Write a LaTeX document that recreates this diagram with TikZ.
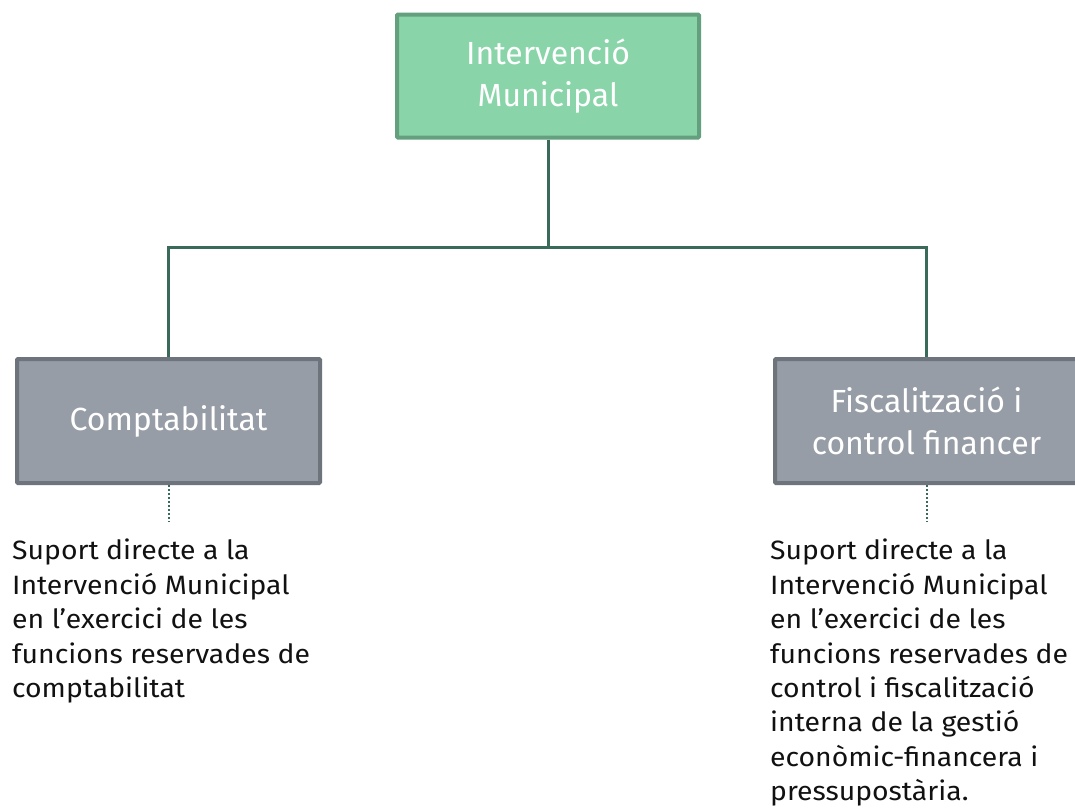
\documentclass[tikz,border=0pt]{standalone}
\usepackage{fontspec}
\setmainfont{Fira Sans}
\newfontfamily\descfont{Fira Sans}[FakeStretch=1.07]
\definecolor{linegreen}{HTML}{3A6A5A}
\definecolor{greenfill}{HTML}{89D5A9}
\definecolor{greenborder}{HTML}{65A07E}
\definecolor{grayfill}{HTML}{979DA6}
\definecolor{grayborder}{HTML}{6E747B}
\definecolor{bodytext}{HTML}{111111}
\begin{document}
\begin{tikzpicture}[x=1pt,y=-1pt,
  boxstyle/.style={draw, line width=4pt, rounded corners=1pt, minimum width=303pt, minimum height=124pt,
    inner sep=0pt, text=white, align=center, font=\fontsize{32}{42}\selectfont},
  greenbox/.style={boxstyle, fill=greenfill, draw=greenborder},
  graybox/.style={boxstyle, fill=grayfill, draw=grayborder},
  conn/.style={draw=linegreen, line width=3pt},
  dotconn/.style={draw=linegreen, line width=2pt, dash pattern=on 2pt off 2pt},
  desc/.style={anchor=north west, inner sep=0pt, align=left, text=bodytext, font=\descfont\fontsize{26.5}{34.4}\selectfont}]
\clip (0,0) rectangle (1075,809);
\fill[white] (0,0) rectangle (1075,809);
\node[greenbox, minimum width=302pt, minimum height=123pt] (top) at (548,76) {Intervenció\\Municipal};
\node[graybox] (left) at (168.5,421) {Comptabilitat};
\node[graybox] (right) at (926.5,421) {Fiscalització i\\control financer};
\coordinate (bus) at (548,247);
\draw[conn] (top.south) -- (bus);
\draw[conn] (bus) -| (left.north);
\draw[conn] (bus) -| (right.north);
\coordinate (ldot) at (168.5,522);
\coordinate (rdot) at (926.5,522);
\draw[dotconn] (left.south) -- (ldot);
\draw[dotconn] (right.south) -- (rdot);
\node[desc] (ltext) at (12,539) {Suport directe a la\\Intervenció Municipal\\en l’exercici de les\\funcions reservades de\\comptabilitat};
\node[desc] (rtext) at (770,539) {Suport directe a la\\Intervenció Municipal\\en l’exercici de les\\funcions reservades de\\control i fiscalització\\interna de la gestió\\econòmic-financera i\\pressupostària.};
\end{tikzpicture}
\end{document}
